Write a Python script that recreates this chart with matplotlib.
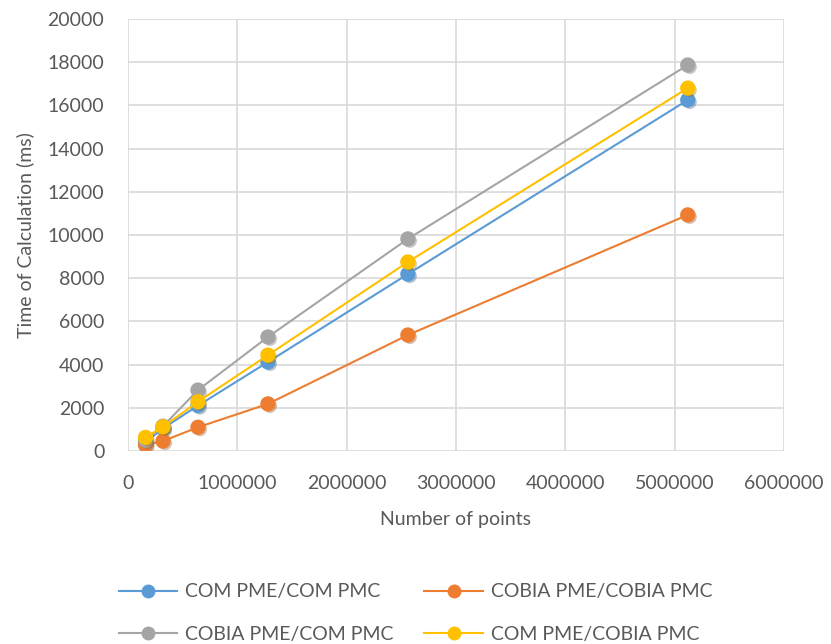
import matplotlib.pyplot as plt
import matplotlib.patheffects as pe
from matplotlib.lines import Line2D

# Data
points = [160000, 320000, 640000, 1280000, 2560000, 5120000]
com_com = [400, 1050, 2100, 4120, 8190, 16250]
cobia_cobia = [280, 460, 1100, 2180, 5370, 10930]
cobia_com = [500, 1150, 2820, 5280, 9820, 17870]
com_cobia = [630, 1120, 2280, 4440, 8750, 16800]

labels = ["COM PME/COM PMC", "COBIA PME/COBIA PMC",
          "COBIA PME/COM PMC", "COM PME/COBIA PMC"]
colors = ["#5B9BD5", "#ED7D31", "#A5A5A5", "#FFC000"]
series = [com_com, cobia_cobia, cobia_com, com_cobia]

TEXT = "#595959"
FS = 14
plt.rcParams['font.family'] = ['Lato', 'DejaVu Sans']

fig = plt.figure(figsize=(8.31, 6.44), dpi=100)
ax = fig.add_axes([128 / 831, 1 - 451 / 644, (784 - 128) / 831, (451 - 19) / 644])

shadow = [pe.SimplePatchShadow(offset=(1.5, -1.5), alpha=0.35, rho=0.6), pe.Normal()]
handles = []
for vals, lab, col in zip(series, labels, colors):
    ax.plot(points, vals, color=col, lw=1.5)
    ax.plot(points, vals, ls='none', marker='o', markersize=10, color=col,
            markeredgecolor=col, path_effects=shadow)
    handles.append(Line2D([], [], color=col, lw=1.5, marker='o', markersize=9,
                          markeredgecolor=col, label=lab))

ax.set_xlim(0, 6000000)
ax.set_ylim(0, 20000)
ax.set_xticks(range(0, 6000001, 1000000))
ax.set_yticks(range(0, 20001, 2000))
ax.ticklabel_format(style='plain')
ax.grid(True, color="#D9D9D9", lw=1.2)
ax.set_axisbelow(True)
for s in ax.spines.values():
    s.set_visible(False)
ax.tick_params(length=0, colors=TEXT, labelsize=FS)
ax.tick_params(axis='x', pad=17)
ax.tick_params(axis='y', pad=17)

ax.set_xlabel("Number of points", color=TEXT, fontsize=FS, labelpad=14)
ax.set_ylabel("Time of Calculation (ms)", color=TEXT, fontsize=FS, labelpad=10)

# legend is filled row by row in the reference
order = [0, 2, 1, 3]
fig.legend([handles[i] for i in order], [labels[i] for i in order],
           loc='lower center', ncol=2, bbox_to_anchor=(0.5, -0.025),
           frameon=False, fontsize=FS, labelcolor=TEXT,
           handlelength=3, handletextpad=0.4, columnspacing=1.6,
           labelspacing=1.3)

fig.savefig("out.png", dpi=100)
